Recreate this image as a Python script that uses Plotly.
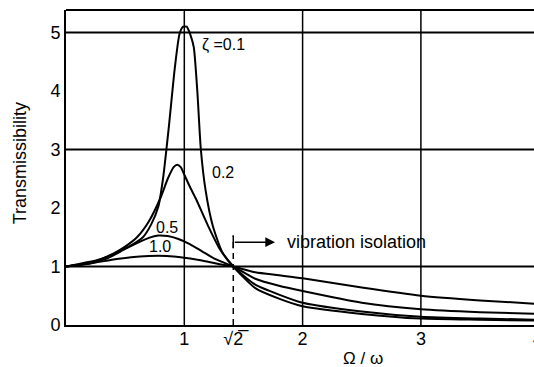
import plotly.graph_objects as go

# ---- data ----
r_01 = [0, 0.15, 0.3, 0.45, 0.55, 0.65, 0.72, 0.78, 0.82, 0.87, 0.92, 0.96, 0.99, 1.02, 1.05,
        1.08, 1.11, 1.14, 1.18, 1.24, 1.32, 1.414, 1.6, 1.8, 2.0, 2.5, 3.0, 3.5, 4.0]
t_01 = [1.0, 1.06, 1.13, 1.26, 1.36, 1.5, 1.72, 2.02, 2.5, 3.4, 4.4, 4.98, 5.1, 5.1, 4.97,
        4.75, 4.0, 3.0, 2.3, 1.7, 1.25, 1.0, 0.63, 0.45, 0.32, 0.19, 0.11, 0.09, 0.075]

r_02 = [0, 0.2, 0.3, 0.4, 0.5, 0.6, 0.7, 0.8, 0.86, 0.91, 0.94, 0.97, 1.0, 1.05, 1.1, 1.2,
        1.3, 1.414, 1.6, 1.8, 2.0, 2.5, 3.0, 3.5, 4.0]
t_02 = [1.0, 1.06, 1.13, 1.22, 1.34, 1.5, 1.77, 2.18, 2.5, 2.7, 2.74, 2.7, 2.57, 2.35, 2.15, 1.7,
        1.3, 1.0, 0.69, 0.52, 0.38, 0.23, 0.14, 0.11, 0.09]

r_05 = [0, 0.2, 0.35, 0.5, 0.6, 0.7, 0.78, 0.86, 0.95, 1.05, 1.15, 1.25, 1.33, 1.414,
        1.6, 1.8, 2.0, 2.5, 3.0, 3.5, 4.0]
t_05 = [1.0, 1.05, 1.14, 1.3, 1.4, 1.49, 1.53, 1.52, 1.47, 1.38, 1.26, 1.14, 1.07, 1.0,
        0.79, 0.67, 0.58, 0.38, 0.27, 0.22, 0.19]

r_10 = [0, 0.2, 0.4, 0.55, 0.7, 0.85, 1.0, 1.1, 1.2, 1.3, 1.414, 1.6, 1.8, 2.0, 2.5, 3.0, 3.5, 4.0]
t_10 = [1.0, 1.05, 1.12, 1.16, 1.18, 1.18, 1.15, 1.12, 1.08, 1.04, 1.0, 0.9, 0.85, 0.8, 0.64,
        0.5, 0.42, 0.36]

curves = [(r_01, t_01), (r_02, t_02), (r_05, t_05), (r_10, t_10)]
curve_labels = ["ζ =0.1", "0.2", "0.5", "1.0"]
label_pos = [(1.133, 4.78, "left"), (1.323, 2.60, "center"), (0.851, 1.67, "center"), (0.795, 1.345, "center")]

x_tickvals = [1, 1.414, 2, 3]
x_ticktext = ["1", "√2\u0305", "2", "3"]
y_tickvals = [0, 1, 2, 3, 4, 5]
y_ticktext = ["0", "1", "2", "3", "4", "5"]
h_grid = [1, 3, 5]
v_grid = [1, 2, 3]

FONT = "Liberation Sans, Arial, Helvetica, sans-serif"
XMAX = 3.956
YMAX = 5.385

fig = go.Figure()
for (rx, ty) in curves:
    fig.add_trace(go.Scatter(x=rx, y=ty, mode="lines",
                             line=dict(color="black", width=2, shape="spline", smoothing=0.6),
                             hoverinfo="skip", showlegend=False))

shapes = []
for g in h_grid:
    shapes.append(dict(type="line", xref="x", yref="y", x0=0, x1=XMAX, y0=g, y1=g,
                       line=dict(color="black", width=2)))
for g in v_grid:
    shapes.append(dict(type="line", xref="x", yref="y", x0=g, x1=g, y0=0, y1=YMAX,
                       line=dict(color="black", width=1.5)))
# top border
shapes.append(dict(type="line", xref="paper", yref="paper", x0=0, x1=1, y0=1, y1=1,
                   line=dict(color="black", width=2)))
# dashed sqrt(2) marker
shapes.append(dict(type="line", xref="x", yref="y", x0=1.414, x1=1.414, y0=0, y1=1.53,
                   line=dict(color="black", width=1.5, dash="6px,5px")))
shapes.append(dict(type="line", xref="x", yref="y", x0=1.414, x1=1.414, y0=1.31, y1=1.53,
                   line=dict(color="black", width=1.5)))
fig.update_layout(shapes=shapes)

ann = []
for (txt, (lx, ly, al)) in zip(curve_labels, label_pos):
    ann.append(dict(x=lx, y=ly, xref="x", yref="y", text=txt, showarrow=False,
                    xanchor=al, yanchor="middle", font=dict(size=16, color="black", family=FONT)))
ann.append(dict(x=1.767, y=1.415, ax=1.414, ay=1.415, xref="x", yref="y", axref="x", ayref="y",
                text="", showarrow=True, arrowhead=2, arrowsize=1.3, arrowwidth=1.5, arrowcolor="black"))
ann.append(dict(x=1.851, y=1.42, xref="x", yref="y", text="vibration isolation", showarrow=False,
                xanchor="left", yanchor="middle", font=dict(size=18, color="black", family=FONT)))
ann.append(dict(x=-0.098, y=0.514, xref="paper", yref="paper", text="Transmissibility", textangle=-90,
                showarrow=False, xanchor="center", yanchor="middle",
                font=dict(size=18, color="black", family=FONT)))
ann.append(dict(x=0.635, y=-0.105, xref="paper", yref="paper", text="Ω / ω",
                showarrow=False, xanchor="center", yanchor="middle",
                font=dict(size=17, color="black", family=FONT)))
ann.append(dict(x=3.99 / XMAX, y=-0.045, xref="paper", yref="paper", text="4",
                showarrow=False, xanchor="center", yanchor="middle",
                font=dict(size=18, color="black", family=FONT)))
fig.update_layout(annotations=ann)

fig.update_layout(
    width=534, height=367,
    margin=dict(l=66, r=0, t=10, b=42),
    paper_bgcolor="white", plot_bgcolor="white",
    font=dict(family=FONT, size=18, color="black"),
    xaxis=dict(range=[0, XMAX], tickvals=x_tickvals, ticktext=x_ticktext, showgrid=False,
               zeroline=False, showline=True, linecolor="black", linewidth=2, ticks="",
               tickfont=dict(size=18), ticklabelstandoff=-4, fixedrange=True),
    yaxis=dict(range=[0, YMAX], tickvals=y_tickvals, ticktext=y_ticktext, showgrid=False,
               zeroline=False, showline=True, linecolor="black", linewidth=2, ticks="",
               tickfont=dict(size=18), fixedrange=True),
)

fig.write_html("out.html", post_script="document.body.style.margin='0px';",
               config={"displayModeBar": False})
